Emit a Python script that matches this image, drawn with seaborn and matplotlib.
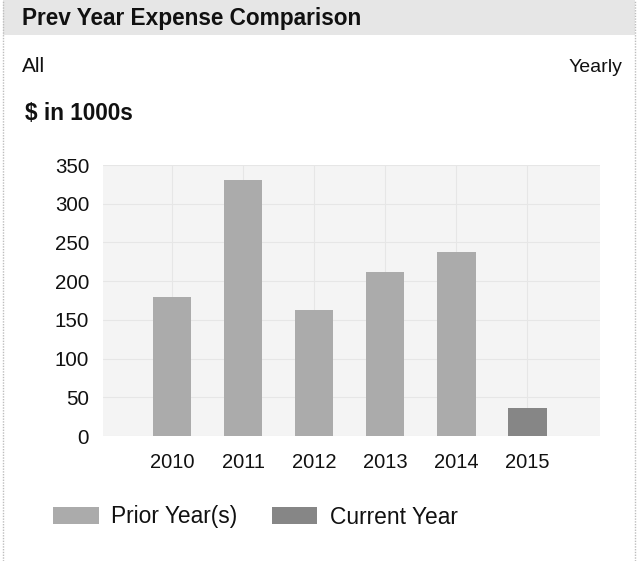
import matplotlib
matplotlib.use("Agg")
import matplotlib.pyplot as plt
from matplotlib.patches import Rectangle, Patch
from matplotlib.lines import Line2D
import seaborn as sns
import pandas as pd

# Expense data, $ in thousands
years = ["2010", "2011", "2012", "2013", "2014", "2015"]
expenses = [180, 330, 163, 212, 237, 36]
periods = ["Prior Year(s)"] * 5 + ["Current Year"]
y_ticks = [0, 50, 100, 150, 200, 250, 300, 350]

colors = {"Prior Year(s)": "#ababab", "Current Year": "#868686"}

sns.set_theme(style="white")
plt.rcParams["font.family"] = ["Liberation Sans", "DejaVu Sans"]

W, H = 644, 561
fig = plt.figure(figsize=(W / 100, H / 100), dpi=100)

def fx(px):
    return px / W

def fy(py):
    return 1 - py / H

# card frame and header strip
fig.patches.append(Rectangle((fx(3), fy(35)), fx(632), 35 / H, transform=fig.transFigure,
                             facecolor="#e6e6e6", edgecolor="none", zorder=0))
for x in (3, 635):
    fig.add_artist(Line2D([fx(x), fx(x)], [0, 1], transform=fig.transFigure,
                          color="#bdbdbd", lw=1, ls=(0, (1, 1))))

fig.text(fx(22), fy(18), "Prev Year Expense Comparison", fontsize=16.3, fontweight="bold",
         ha="left", va="center", color="#111111")
fig.text(fx(22), fy(67), "All", fontsize=15, ha="left", va="center", color="#111111")
fig.text(fx(622), fy(67), "Yearly", fontsize=14, ha="right", va="center", color="#111111")
fig.text(fx(25), fy(113), "$ in 1000s", fontsize=16.3, fontweight="bold",
         ha="left", va="center", color="#111111")

ax = fig.add_axes([fx(103), fy(436), fx(600) - fx(103), (436 - 165) / H])
df = pd.DataFrame({"year": years, "expense": expenses, "period": periods})
sns.barplot(data=df, x="year", y="expense", hue="period", palette=colors, dodge=False,
            width=0.54, legend=False, ax=ax, zorder=3, linewidth=0, edgecolor="none")

ax.set_facecolor("#f4f4f4")
ax.set_xlim(-0.97, 6.02)
ax.set_ylim(0, 350)
ax.set_yticks(y_ticks)
ax.grid(True, color="#e6e6e6", lw=0.8, zorder=0)
ax.set_axisbelow(True)
for s in ax.spines.values():
    s.set_visible(False)
ax.set_xlabel("")
ax.set_ylabel("")
ax.tick_params(axis="y", length=0, pad=10, labelsize=14.8, labelcolor="#111111")
ax.tick_params(axis="x", length=0, pad=12, labelsize=14.5, labelcolor="#111111")

handles = [Patch(facecolor=colors[k], edgecolor="none") for k in ["Prior Year(s)", "Current Year"]]
fig.legend(handles, ["Prior Year(s)", "Current Year"], loc="center left",
           bbox_to_anchor=(fx(53), fy(517)), ncol=2, frameon=False, fontsize=16.4,
           handlelength=2.0, handleheight=0.72, handletextpad=0.55, columnspacing=1.5,
           borderpad=0, borderaxespad=0, labelcolor="#111111")

fig.savefig("out.png", dpi=100)
